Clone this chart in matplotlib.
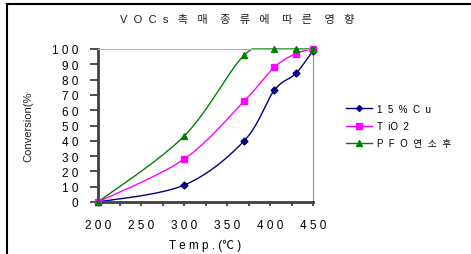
import numpy as np
import matplotlib.pyplot as plt
from matplotlib.lines import Line2D
from matplotlib.ticker import FixedLocator, FixedFormatter

plt.rcParams["font.family"] = ["Liberation Sans", "Noto Sans CJK KR"]

temps = [200, 300, 370, 405, 430, 450]
cu15 = [0, 11, 40, 73, 84, 99]
tio2 = [0, 28, 66, 88, 97, 100]
pfo = [0, 43, 96, 100, 100, 100]

series_names = ["1  5  %  C  u", "T  iO  2", "P  F  O  연  소  후"]
title = "V  O  C  s   촉   매    종   류   에    따   른    영   향"
x_label = "T e m p . (℃ )"
y_label = "Conversion(%"

x_ticks = [200, 250, 300, 350, 400, 450]
y_ticks = list(range(0, 101, 10))

COLORS = ["#000080", "#ff00ff", "#008000"]
MARKERS = ["D", "s", "^"]
MSIZE = [3.5, 5, 5]


def spaced(v):
    return " ".join(str(v))


def smooth(xs, ys, sx=215 / 250, sy=153 / 100, n=30):
    """Excel-like smoothed line (bezier through the points, in pixel space)."""
    p = np.column_stack([np.asarray(xs, float) * sx, np.asarray(ys, float) * sy])
    pts = np.vstack([p[0], p, p[-1]])
    out = []
    t = np.linspace(0, 1, n)[:, None]
    for i in range(1, len(pts) - 2):
        p0, p1 = pts[i], pts[i + 1]
        c1 = p0 + (pts[i + 1] - pts[i - 1]) / 6
        c2 = p1 - (pts[i + 2] - pts[i]) / 6
        seg = (1 - t) ** 3 * p0 + 3 * (1 - t) ** 2 * t * c1 + 3 * (1 - t) * t ** 2 * c2 + t ** 3 * p1
        out.append(seg)
    out = np.vstack(out)
    return out[:, 0] / sx, np.minimum(out[:, 1] / sy, 100)


fig = plt.figure(figsize=(4.71, 2.55), dpi=100)
ax = fig.add_axes([98 / 471, 1 - 203 / 255, 215 / 471, 153 / 255])

handles = []
for ys, name, c, m, ms in zip([cu15, tio2, pfo], series_names, COLORS, MARKERS, MSIZE):
    sxv, syv = smooth(temps, ys)
    ax.plot(sxv, syv, color=c, lw=1, clip_on=False)
    ax.plot(temps, ys, ls="none", marker=m, ms=ms, color=c, clip_on=False, zorder=3)
    handles.append(Line2D([], [], color=c, lw=1, marker=m, ms=ms - 0.5, label=name))

ax.set_xlim(200, 450)
ax.set_ylim(0, 100)
ax.xaxis.set_major_locator(FixedLocator(x_ticks))
ax.xaxis.set_major_formatter(FixedFormatter([spaced(v) for v in x_ticks]))
ax.xaxis.set_minor_locator(FixedLocator([225, 275, 325, 375, 425]))
ax.yaxis.set_major_locator(FixedLocator(y_ticks))
ax.yaxis.set_major_formatter(FixedFormatter([spaced(v) for v in y_ticks]))
ax.tick_params(axis="both", which="both", direction="out", labelsize=8.5, color="#303030", width=1.2)
ax.tick_params(axis="y", length=6, pad=8)
ax.tick_params(axis="x", which="major", length=3, pad=9)
ax.tick_params(axis="x", which="minor", length=3)

for side in ["left", "bottom"]:
    ax.spines[side].set_color("#404040")
    ax.spines[side].set_linewidth(2)
ax.spines["top"].set_color("#b0b0b0")
ax.spines["right"].set_color("#909090")

ax.set_xlabel(x_label, fontsize=8.5, labelpad=6)
ax.set_ylabel(y_label, fontsize=8, color="#202020")
ax.yaxis.set_label_coords(-0.30, 0.5)
fig.text(237 / 471, 1 - 20 / 255, title, fontsize=8, ha="center", va="center", color="#202020")

ax.legend(handles=handles, loc="center left", bbox_to_anchor=(346 / 471, 1 - 127 / 255),
          bbox_transform=fig.transFigure, frameon=False, fontsize=7, borderpad=0,
          borderaxespad=0, handlelength=2.7, handletextpad=0.5, labelspacing=0.75)

fig.add_artist(Line2D([7 / 471, 1], [1 - 5 / 255, 1 - 5 / 255], color="black", lw=1.5))
fig.add_artist(Line2D([7 / 471, 7 / 471], [0, 1 - 5 / 255], color="black", lw=1.5))

fig.savefig("out.png", dpi=100)
